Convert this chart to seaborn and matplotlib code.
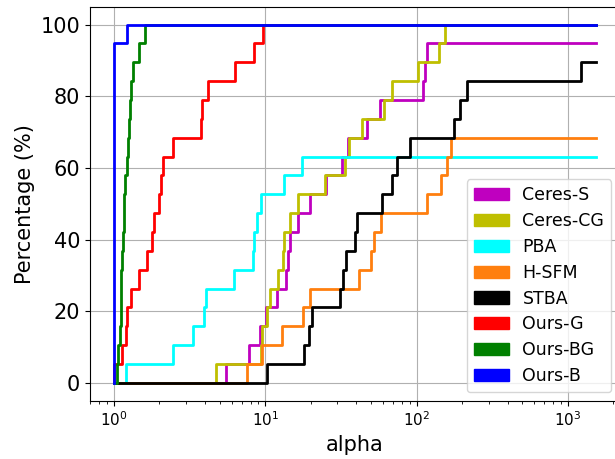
import numpy as np
import pandas as pd
import seaborn as sns
import matplotlib.pyplot as plt
from matplotlib.patches import Patch

# performance ratios (alpha) per solver, 19 problems in total
n_problems = 19
alpha_max = 1530

ceres_s = [5.48, 7.85, 9.24, 10.1, 11.96, 13.8, 14.25, 14.6, 16.5, 19.8,
           25.2, 32.0, 35.5, 46.8, 57.8, 110.7, 113.6, 116.6]
ceres_cg = [4.71, 9.38, 9.60, 10.23, 10.76, 12.2, 13.17, 13.37, 14.58, 16.55,
            24.8, 33.7, 35.8, 43.4, 60.9, 68.8, 102.1, 140.6, 154.0]
pba = [1.198, 2.47, 3.35, 3.96, 4.06, 6.25, 8.27, 8.47, 8.79, 9.38,
       13.37, 17.58]
h_sfm = [7.55, 9.48, 12.85, 17.77, 19.77, 41.6, 50.0, 52.5, 57.9, 116.6,
         146.0, 158.1, 170.0]
stba = [10.23, 18.05, 19.47, 20.28, 31.2, 32.8, 34.0, 39.2, 40.6, 58.8,
        68.5, 73.9, 90.9, 175.8, 193.5, 216.2, 1213]
ours_g = [1.0, 1.138, 1.204, 1.228, 1.293, 1.474, 1.649, 1.796, 1.851, 1.998,
          2.04, 2.104, 2.449, 3.75, 3.824, 4.21, 6.317, 8.433, 9.627]
ours_bg = [1.055, 1.066, 1.091, 1.107, 1.116, 1.121, 1.128, 1.155, 1.168,
           1.173, 1.191, 1.217, 1.235, 1.26, 1.279, 1.299, 1.345, 1.474, 1.607]
ours_b = [1.0] * 18 + [1.22]

solvers = ["Ceres-S", "Ceres-CG", "PBA", "H-SFM", "STBA", "Ours-G", "Ours-BG", "Ours-B"]
ratios = [ceres_s, ceres_cg, pba, h_sfm, stba, ours_g, ours_bg, ours_b]
colors = ["m", "y", "cyan", "tab:orange", "k", "r", "g", "b"]

rows = []
for name, r in zip(solvers, ratios):
    xs = [1.0] + sorted(r) + [alpha_max]
    ys = list(range(len(r) + 1)) + [len(r)]
    for x, y in zip(xs, ys):
        rows.append({"solver": name, "alpha": x, "pct": 100.0 * y / n_problems})
df = pd.DataFrame(rows)

fig = plt.figure(figsize=(6.15, 4.59), dpi=100)
ax = fig.add_axes([0.1459, 0.127, 0.8622, 0.8584])

sns.lineplot(data=df, x="alpha", y="pct", hue="solver", hue_order=solvers,
             palette=dict(zip(solvers, colors)), estimator=None, sort=False,
             drawstyle="steps-post", linewidth=2, legend=False, ax=ax)

ax.set_xscale("log")
ax.set_xlim(0.693, 2210)
ax.set_ylim(-5, 105)
ax.grid(True, color="#b0b0b0", linewidth=0.8)
ax.set_axisbelow(True)
ax.set_xlabel("alpha", fontsize=15)
ax.set_ylabel("Percentage (%)", fontsize=15)
ax.tick_params(axis="y", labelsize=15)
ax.tick_params(axis="x", labelsize=11)

handles = [Patch(facecolor=c, edgecolor=c, label=s) for s, c in zip(solvers, colors)]
ax.legend(handles=handles, loc="lower right", fontsize=12.5, labelspacing=0.45)

fig.savefig("out.png", dpi=100)
